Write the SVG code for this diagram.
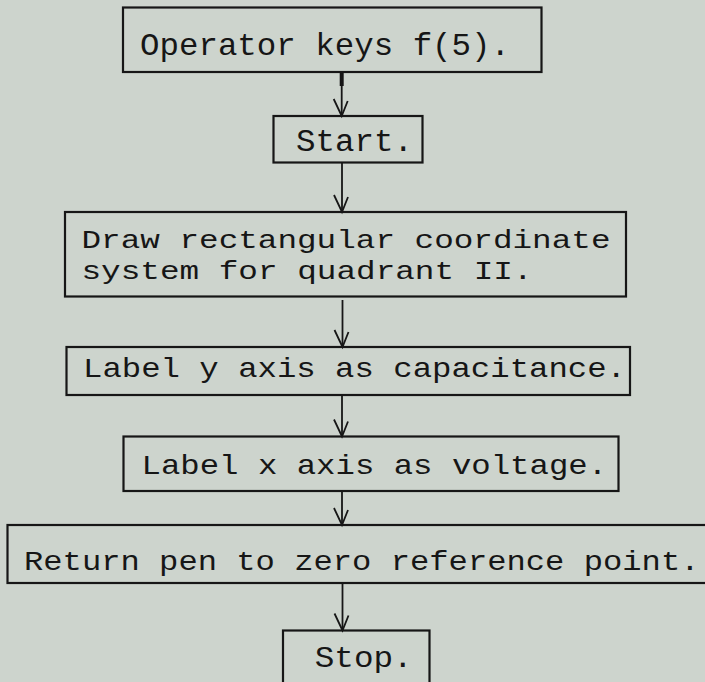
<svg xmlns="http://www.w3.org/2000/svg" width="705" height="682" viewBox="0 0 705 682">
<defs>
<style>
.bg{fill:#cdd4cd}
.box{fill:none;stroke:#161616;stroke-width:2.2}
.t{font-family:"Liberation Mono","DejaVu Sans Mono",monospace;fill:#161616}
.c{stroke:#161616;stroke-width:1.8;fill:none}
</style>
<marker id="ah" markerUnits="userSpaceOnUse" viewBox="-20 -10 22 20" refX="0" refY="0" markerWidth="22" markerHeight="20" orient="auto" overflow="visible">
<path d="M-15,-6 L0,0 L-17,8" fill="none" stroke="#161616" stroke-width="1.8"/>
</marker>
</defs>
<rect class="bg" x="0" y="0" width="705" height="682"/>
<g id="n1">
<rect class="box" x="123" y="7.5" width="418.5" height="64.5"/>
<text class="t" x="140" y="55" font-size="32" textLength="370" lengthAdjust="spacingAndGlyphs">Operator keys f(5).</text>
</g>
<g id="n2">
<rect class="box" x="273.5" y="116" width="149" height="46.5"/>
<text class="t" x="296" y="150.7" font-size="31" textLength="117" lengthAdjust="spacingAndGlyphs">Start.</text>
</g>
<g id="n3">
<rect class="box" x="65" y="212" width="561" height="84.5"/>
<text class="t" x="81.5" y="248.3" font-size="25" textLength="529" lengthAdjust="spacingAndGlyphs">Draw rectangular coordinate</text>
<text class="t" x="81.5" y="279.3" font-size="25" textLength="451" lengthAdjust="spacingAndGlyphs">system for quadrant II.</text>
</g>
<g id="n4">
<rect class="box" x="66.5" y="347" width="563.5" height="48"/>
<text class="t" x="83" y="377.3" font-size="28" textLength="543" lengthAdjust="spacingAndGlyphs">Label y axis as capacitance.</text>
</g>
<g id="n5">
<rect class="box" x="123.5" y="436.5" width="495" height="54.5"/>
<text class="t" x="141.5" y="474" font-size="28" textLength="465.6" lengthAdjust="spacingAndGlyphs">Label x axis as voltage.</text>
</g>
<g id="n6">
<rect class="box" x="7.5" y="525" width="710" height="58"/>
<text class="t" x="24" y="569.5" font-size="28" textLength="675.5" lengthAdjust="spacingAndGlyphs">Return pen to zero reference point.</text>
</g>
<g id="n7">
<rect class="box" x="283" y="630.5" width="146.5" height="60"/>
<text class="t" x="314.7" y="666.7" font-size="29" textLength="98" lengthAdjust="spacingAndGlyphs">Stop.</text>
</g>
<g id="connectors">
<line x1="341.7" y1="72" x2="341.7" y2="86" stroke="#161616" stroke-width="4"/>
<line class="c" x1="341.7" y1="72" x2="341.7" y2="116" marker-end="url(#ah)"/>
<line class="c" x1="342" y1="162.5" x2="342" y2="212" marker-end="url(#ah)"/>
<line class="c" x1="342.5" y1="300" x2="342.5" y2="347" marker-end="url(#ah)"/>
<line class="c" x1="342" y1="395" x2="342" y2="436.5" marker-end="url(#ah)"/>
<line class="c" x1="342" y1="491" x2="342" y2="525" marker-end="url(#ah)"/>
<line class="c" x1="342.5" y1="583" x2="342.5" y2="630.5" marker-end="url(#ah)"/>
</g>
</svg>
